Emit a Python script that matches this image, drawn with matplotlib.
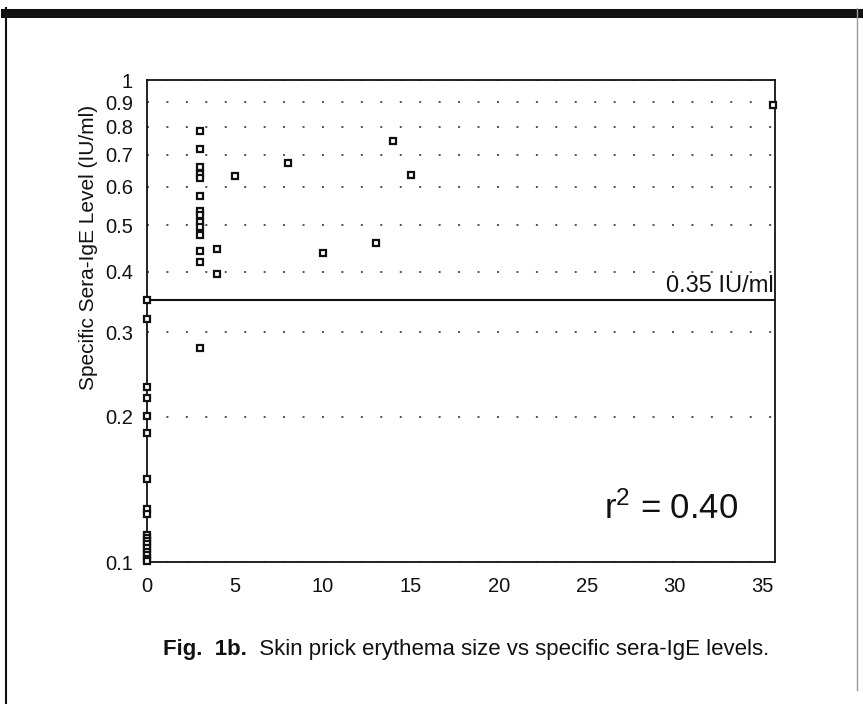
import matplotlib
matplotlib.use("Agg")
import matplotlib.pyplot as plt
from matplotlib.lines import Line2D
from matplotlib.ticker import FixedLocator, FixedFormatter, NullLocator

plt.rcParams['font.family'] = ['Liberation Sans', 'DejaVu Sans']
plt.rcParams['mathtext.fontset'] = 'custom'
plt.rcParams['mathtext.rm'] = 'Liberation Sans'
plt.rcParams['mathtext.default'] = 'regular'
plt.rcParams['lines.scale_dashes'] = False

# ---- data ----
erythema_size = [0, 0, 0, 0, 0, 0, 0, 0, 0, 0, 0, 0, 0, 0, 0, 0, 0, 0,
                 3, 3, 3, 3, 3, 3, 3, 3, 3, 3, 3, 3, 3, 3,
                 4, 4, 5, 8, 10, 13, 14, 15, 35.6]
ige_level = [0.35, 0.319, 0.231, 0.219, 0.201, 0.185, 0.149, 0.129, 0.126,
             0.114, 0.112, 0.1106, 0.109, 0.107, 0.105, 0.1034, 0.1015, 0.1005,
             0.784, 0.718, 0.661, 0.637, 0.626, 0.574, 0.535, 0.525, 0.507,
             0.495, 0.477, 0.442, 0.419, 0.278,
             0.446, 0.396, 0.633, 0.673, 0.438, 0.459, 0.748, 0.635, 0.887]
cutoff = 0.35
cutoff_label = "0.35 IU/ml"
r2_label = "r$^{2}$ = 0.40"
x_ticks = [0, 5, 10, 15, 20, 25, 30, 35]
y_ticks = [0.1, 0.2, 0.3, 0.4, 0.5, 0.6, 0.7, 0.8, 0.9, 1.0]
y_tick_labels = ["0.1", "0.2", "0.3", "0.4", "0.5", "0.6", "0.7", "0.8", "0.9", "1"]
y_label = "Specific Sera-IgE Level (IU/ml)"
caption_bold = "Fig.  1b."
caption_rest = "  Skin prick erythema size vs specific sera-IgE levels."

W, H = 863, 704
fig = plt.figure(figsize=(W / 100, H / 100), dpi=100)
ax = fig.add_axes([147 / W, 1 - 562 / H, (775 - 147) / W, (562 - 80) / H])

ax.set_yscale('log')
ax.set_xlim(0, 35.7)
ax.set_ylim(0.1, 1.0)

ax.yaxis.set_major_locator(FixedLocator(y_ticks))
ax.yaxis.set_major_formatter(FixedFormatter(y_tick_labels))
ax.yaxis.set_minor_locator(NullLocator())
ax.set_xticks(x_ticks)
ax.tick_params(axis='both', length=0, labelsize=14.5, colors='#111111')
ax.tick_params(axis='x', pad=11)
ax.tick_params(axis='y', pad=10)

for s in ax.spines.values():
    s.set_linewidth(1.3)
    s.set_color('#111111')

ax.grid(axis='y', which='major', color='#333333', linewidth=1.2,
        linestyle=(0, (1.4, 12.6)))

ax.axhline(cutoff, color='#111111', linewidth=1.5, zorder=3)
ax.text(0.998, cutoff * 1.012, cutoff_label, transform=ax.get_yaxis_transform(),
        ha='right', va='bottom', fontsize=17, color='#111111')

ax.plot(erythema_size, ige_level, linestyle='none', marker='s', markersize=3.8,
        markerfacecolor='white', markeredgecolor='#111111', markeredgewidth=1.6,
        clip_on=False, zorder=5)

ax.text(0.942, 0.075, r2_label, transform=ax.transAxes, ha='right', va='bottom',
        fontsize=25, color='#111111')

fig.text(88 / W, 1 - 247 / H, y_label, rotation=90, ha='center', va='center',
         fontsize=15, color='#111111')

t1 = fig.text(163 / W, 1 - 655 / H, caption_bold, fontsize=16,
              fontweight='bold', ha='left', va='baseline', color='#111111')
ann = plt.annotate(caption_rest, xy=(1, 0), xycoords=t1, ha='left', va='bottom',
                   fontsize=16, color='#111111', annotation_clip=False)

# page frame
fig.add_artist(Line2D([5 / W, 858 / W], [1 - 12.5 / H, 1 - 12.5 / H],
                      transform=fig.transFigure, color='#111111', linewidth=6.5))
fig.add_artist(Line2D([6 / W, 6 / W], [1 - 8 / H, 0], transform=fig.transFigure,
                      color='#111111', linewidth=1.5))
fig.add_artist(Line2D([857 / W, 857 / W], [1 - 8 / H, 0.02], transform=fig.transFigure,
                      color='#999999', linewidth=1.0))

fig.savefig("out.png", dpi=100)
